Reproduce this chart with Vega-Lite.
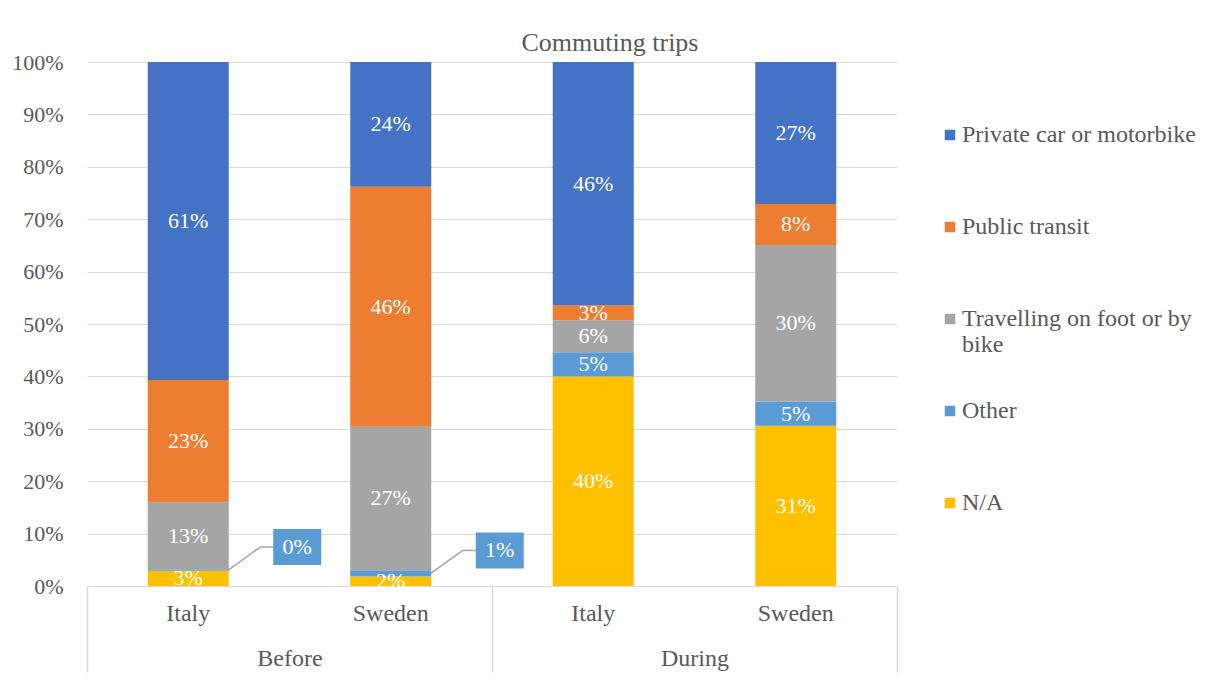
{
  "$schema": "https://vega.github.io/schema/vega-lite/v6.json",
  "width": 810,
  "height": 524,
  "autosize": {"type": "none"},
  "padding": {"left": 87, "top": 62, "right": 313, "bottom": 98},
  "background": "white",
  "title": {"text": "Commuting trips", "anchor": "middle", "dx": 118, "dy": 13, "offset": 8, "font": "Liberation Serif", "fontSize": 26, "fontWeight": "normal", "color": "#595959"},
  "data": {"values": [
    {"period": "Before", "country": "Italy", "category": "N/A", "value": 0.029},
    {"period": "Before", "country": "Italy", "category": "Other", "value": 0.003},
    {"period": "Before", "country": "Italy", "category": "Travelling on foot or by bike", "value": 0.128},
    {"period": "Before", "country": "Italy", "category": "Public transit", "value": 0.233},
    {"period": "Before", "country": "Italy", "category": "Private car or motorbike", "value": 0.607},
    {"period": "Before", "country": "Sweden", "category": "N/A", "value": 0.018},
    {"period": "Before", "country": "Sweden", "category": "Other", "value": 0.012},
    {"period": "Before", "country": "Sweden", "category": "Travelling on foot or by bike", "value": 0.274},
    {"period": "Before", "country": "Sweden", "category": "Public transit", "value": 0.458},
    {"period": "Before", "country": "Sweden", "category": "Private car or motorbike", "value": 0.238},
    {"period": "During", "country": "Italy", "category": "N/A", "value": 0.400},
    {"period": "During", "country": "Italy", "category": "Other", "value": 0.046},
    {"period": "During", "country": "Italy", "category": "Travelling on foot or by bike", "value": 0.061},
    {"period": "During", "country": "Italy", "category": "Public transit", "value": 0.029},
    {"period": "During", "country": "Italy", "category": "Private car or motorbike", "value": 0.464},
    {"period": "During", "country": "Sweden", "category": "N/A", "value": 0.306},
    {"period": "During", "country": "Sweden", "category": "Other", "value": 0.046},
    {"period": "During", "country": "Sweden", "category": "Travelling on foot or by bike", "value": 0.299},
    {"period": "During", "country": "Sweden", "category": "Public transit", "value": 0.078},
    {"period": "During", "country": "Sweden", "category": "Private car or motorbike", "value": 0.271}
  ]},
  "transform": [
    {"calculate": "datum.period + ' ' + datum.country", "as": "key"},
    {"calculate": "indexof(['N/A','Other','Travelling on foot or by bike','Public transit','Private car or motorbike'], datum.category)", "as": "ord"},
    {"stack": "value", "groupby": ["key"], "sort": [{"field": "ord", "order": "ascending"}], "as": ["v0", "v1"]},
    {"calculate": "(datum.v0 + datum.v1) / 2", "as": "vmid"}
  ],
  "layer": [
    {
      "layer": [
        {
          "mark": {"type": "bar"},
          "encoding": {
            "x": {"field": "key", "type": "nominal", "sort": null,
              "scale": {"paddingInner": 0.6, "paddingOuter": 0.3},
              "axis": {"orient": "bottom", "title": null, "labelAngle": 0, "labelExpr": "split(datum.label, ' ')[1]", "ticks": false, "domain": true, "domainColor": "#D9D9D9", "domainWidth": 1, "labelPadding": 15, "labelFont": "Liberation Serif", "labelFontSize": 24, "labelColor": "#595959", "grid": false}},
            "y": {"field": "v0", "type": "quantitative",
              "scale": {"domain": [0, 1], "nice": false},
              "axis": {"title": null, "values": [0, 0.1, 0.2, 0.3, 0.4, 0.5, 0.6, 0.7, 0.8, 0.9, 1], "format": ".0%", "domain": false, "ticks": false, "grid": true, "gridColor": "#D9D9D9", "gridWidth": 1, "labelPadding": 24, "labelFont": "Liberation Serif", "labelFontSize": 22, "labelColor": "#595959"}},
            "y2": {"field": "v1"},
            "color": {"field": "category", "type": "nominal",
              "scale": {"domain": ["Private car or motorbike", "Public transit", "Travelling on foot or by bike", "Other", "N/A"], "range": ["#4472C4", "#ED7D31", "#A5A5A5", "#5B9BD5", "#FFC000"]},
              "legend": {"orient": "none", "legendX": 851, "legendY": 61, "title": null, "symbolType": "square", "symbolSize": 110, "symbolStrokeWidth": 0, "labelFont": "Liberation Serif", "labelFontSize": 24, "labelColor": "#595959", "labelOffset": 0, "rowPadding": 42, "gridAlign": "all", "labelLimit": 400,
                "labelExpr": "datum.label == 'Travelling on foot or by bike' ? ['Travelling on foot or by', 'bike'] : datum.label"}}
          }
        },
        {
          "transform": [{"filter": "!(datum.period == 'Before' && datum.category == 'Other')"}],
          "mark": {"type": "text", "color": "white", "font": "Liberation Serif", "fontSize": 22, "baseline": "middle", "align": "center"},
          "encoding": {
            "x": {"field": "key", "type": "nominal", "sort": null},
            "y": {"field": "vmid", "type": "quantitative"},
            "text": {"field": "value", "type": "quantitative", "format": ".0%"}
          }
        },
        {
          "transform": [{"filter": "datum.period == 'Before' && datum.category == 'Other'"}],
          "mark": {"type": "rule", "color": "#A5A5A5", "strokeWidth": 1.5, "xOffset": 40, "x2Offset": 72, "y2Offset": -23},
          "encoding": {
            "x": {"field": "key", "type": "nominal", "sort": null, "bandPosition": 0.5},
            "x2": {"field": "key", "bandPosition": 0.5},
            "y": {"field": "vmid", "type": "quantitative"},
            "y2": {"field": "vmid"}
          }
        },
        {
          "transform": [{"filter": "datum.period == 'Before' && datum.category == 'Other'"}],
          "mark": {"type": "rule", "color": "#A5A5A5", "strokeWidth": 1.5, "xOffset": 72, "x2Offset": 86, "yOffset": -23, "y2Offset": -23},
          "encoding": {
            "x": {"field": "key", "type": "nominal", "sort": null, "bandPosition": 0.5},
            "x2": {"field": "key", "bandPosition": 0.5},
            "y": {"field": "vmid", "type": "quantitative"},
            "y2": {"field": "vmid"}
          }
        },
        {
          "transform": [{"filter": "datum.period == 'Before' && datum.category == 'Other'"}],
          "mark": {"type": "point", "shape": "M-1,-0.75H1V0.75H-1Z", "size": 2304, "filled": true, "fill": "#5B9BD5", "opacity": 1, "strokeWidth": 0, "xOffset": 109, "yOffset": -23},
          "encoding": {
            "x": {"field": "key", "type": "nominal", "sort": null},
            "y": {"field": "vmid", "type": "quantitative"}
          }
        },
        {
          "transform": [{"filter": "datum.period == 'Before' && datum.category == 'Other'"}],
          "mark": {"type": "text", "color": "white", "font": "Liberation Serif", "fontSize": 22, "baseline": "middle", "align": "center", "xOffset": 109, "yOffset": -23},
          "encoding": {
            "x": {"field": "key", "type": "nominal", "sort": null},
            "y": {"field": "vmid", "type": "quantitative"},
            "text": {"field": "value", "type": "quantitative", "format": ".0%"}
          }
        }
      ]
    },
    {
      "mark": {"type": "rule", "opacity": 0},
      "encoding": {
        "x": {"field": "period", "type": "nominal",
          "scale": {"paddingInner": 0, "paddingOuter": 0},
          "axis": {"orient": "bottom", "title": null, "labelAngle": 0, "domain": false, "ticks": true, "tickBand": "extent", "tickSize": 86, "tickColor": "#D9D9D9", "tickWidth": 1.5, "labelPadding": -26, "labelFont": "Liberation Serif", "labelFontSize": 24, "labelColor": "#595959", "grid": false}}
      }
    }
  ],
  "resolve": {"scale": {"x": "independent"}, "axis": {"x": "independent"}},
  "config": {"view": {"stroke": null}, "font": "Liberation Serif"}
}
